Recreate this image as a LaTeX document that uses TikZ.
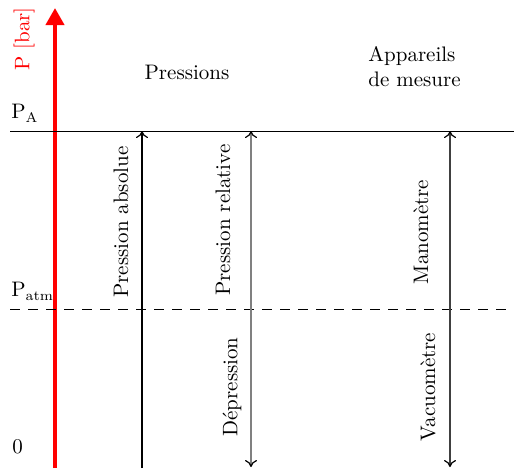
\documentclass[tikz,border=0pt]{standalone}
\usepackage{tikz}
\usetikzlibrary{arrows.meta,positioning,calc}

\newcommand{\idx}[1]{\raisebox{-2pt}{\fontsize{7}{8}\selectfont #1}}

\begin{document}
\begin{tikzpicture}[
  x=0.5pt, y=-0.5pt,
  every node/.style={font=\fontsize{10.5}{12.5}\selectfont, inner sep=0pt},
  axis/.style={red, line width=2pt, -{Triangle[length=8.5pt,width=9pt]}},
  level/.style={line width=0.5pt},
  measure/.style={line width=0.6pt, {To[length=3.5pt,width=6pt,color=black]}-{To[length=3.5pt,width=6pt,color=black]}},
  vlabel/.style={rotate=90}
  ]
\useasboundingbox (0,0) rectangle (514,468);

% pressure axis
\coordinate (axbot) at (55,468);
\coordinate (axtop) at (55,8);
\draw[axis] (axbot) -- (axtop);
\node[red, vlabel] (axlabel) at (24,39) {P [bar]};

% levels
\coordinate (paw) at (10,131);
\coordinate (pae) at (514,131);
\coordinate (pmw) at (10,309);
\coordinate (pme) at (514,309);
\draw[level] (paw) -- (pae);
\draw[level, dash pattern=on 5pt off 4pt] (pmw) -- (pme);
\node[anchor=base west] (pa) at (11,118) {P\idx{A}};
\node[anchor=base west] (patm) at (11,296) {P\idx{atm}};
\node[anchor=base west] (zero) at (12,453) {0};

% headings
\node (pressions) at (187,72) {Pressions};
\node[align=left, anchor=west] (appareils) at (368,67) {Appareils\\de mesure};

% pressures
\coordinate (absbot) at (142,468);
\coordinate (abstop) at (142,131);
\draw[line width=0.6pt, -{To[length=3.5pt,width=6pt]}] (absbot) -- (abstop);
\node[vlabel] (absolue) at (121,222) {Pression absolue};

\coordinate (reltop) at (251,131);
\coordinate (relbot) at (251,467);
\draw[measure, gray] (reltop) -- (relbot);
\node[vlabel] (relative) at (223,220) {Pression relative};
\node[vlabel] (depression) at (232,387) {Dépression};

% measuring devices
\coordinate (mantop) at (450,131);
\coordinate (manbot) at (450,467);
\draw[measure, black!75] (mantop) -- (manbot);
\node[vlabel] (manometre) at (421,232) {Manomètre};
\node[vlabel] (vacuometre) at (428,387) {Vacuomètre};

\end{tikzpicture}
\end{document}
